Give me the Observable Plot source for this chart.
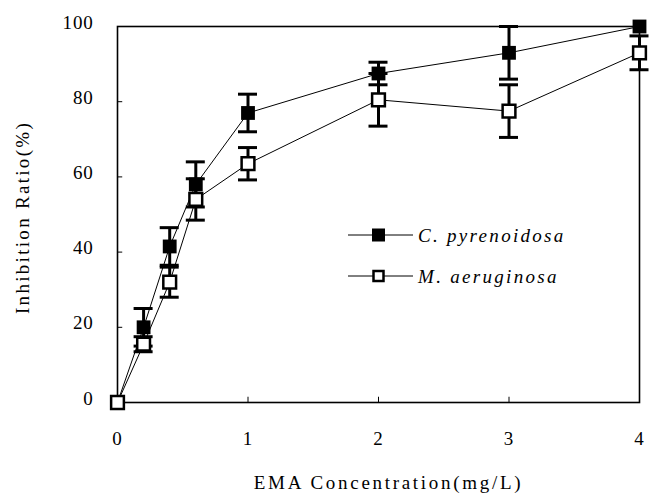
<!DOCTYPE html>
<html>
<head>
<meta charset="utf-8">
<script src="https://cdn.jsdelivr.net/npm/d3@7"></script>
<script src="https://cdn.jsdelivr.net/npm/@observablehq/plot@0.6"></script>
<style>
  html, body { margin: 0; padding: 0; background: #fff; }
  #wrap { position: relative; width: 650px; height: 502px; }
  #legend { position: absolute; left: 0; top: 0; pointer-events: none; }
  #wrap svg text { font-family: "Liberation Serif", "DejaVu Serif", "Times New Roman", serif !important; }
</style>
</head>
<body>
<div id="wrap"></div>
<script>
// ---- data ----
const concentration = [0, 0.2, 0.4, 0.6, 1, 2, 3, 4];
const seriesNames = ["C. pyrenoidosa", "M. aeruginosa"];
const cPyrenoidosa = [0, 20, 41.5, 58, 77, 87.5, 93, 100];
const cPyrenoidosaErr = [0, 5, 5, 6, 5, 3, 7, 0];
const mAeruginosa = [0, 15.5, 32, 54, 63.5, 80.5, 77.5, 93];
const mAeruginosaErr = [0, 2, 4, 5.5, 4.3, 7, 7, 4.5];
const xTicks = [0, 1, 2, 3, 4];
const yTicks = [0, 20, 40, 60, 80, 100];
const xLabel = "EMA Concentration(mg/L)";
const yLabel = "Inhibition Ratio(%)";

const rows = [];
[[cPyrenoidosa, cPyrenoidosaErr], [mAeruginosa, mAeruginosaErr]].forEach(([vals, errs], s) => {
  concentration.forEach((c, i) => rows.push({series: seriesNames[s], x: c, y: vals[i], err: errs[i]}));
});
const bars = rows.filter(d => d.err > 0);
const filled = rows.filter(d => d.series === seriesNames[0]);
const open = rows.filter(d => d.series === seriesNames[1]);

const font = "Liberation Serif, DejaVu Serif, serif";

const chart = Plot.plot({
  width: 650,
  height: 502,
  marginLeft: 117,
  marginRight: 11,
  marginTop: 26,
  marginBottom: 100,
  style: {fontFamily: font, fontSize: "19px", letterSpacing: "0.8px", background: "#fff", color: "#000"},
  x: {domain: [0, 4]},
  y: {domain: [0, 100]},
  marks: [
    Plot.frame({stroke: "#000", strokeWidth: 1.6}),
    // inward ticks
    Plot.ruleX(xTicks.slice(1, -1), {x: d => d, y1: 0, y2: 1.4, stroke: "#000", strokeWidth: 1}),
    Plot.ruleY(yTicks.slice(1, -1), {y: d => d, x1: 0, x2: 0.04, stroke: "#000", strokeWidth: 1}),
    Plot.axisX({ticks: xTicks, tickSize: 0, tickPadding: 29, label: null, tickFormat: d => String(d)}),
    Plot.axisY({ticks: yTicks, tickSize: 0, tickPadding: 24, label: null, dy: -4, tickFormat: d => String(d)}),
    // error bars
    Plot.ruleX(bars, {x: "x", y1: d => d.y - d.err, y2: d => d.y + d.err, stroke: "#000", strokeWidth: 3}),
    Plot.ruleY(bars, {y: d => d.y + d.err, x1: "x", x2: "x", insetLeft: -9.5, insetRight: -9.5, stroke: "#000", strokeWidth: 3}),
    Plot.ruleY(bars, {y: d => d.y - d.err, x1: "x", x2: "x", insetLeft: -9.5, insetRight: -9.5, stroke: "#000", strokeWidth: 3}),
    // lines
    Plot.line(rows, {x: "x", y: "y", z: "series", stroke: "#000", strokeWidth: 1}),
    // markers
    Plot.dot(open, {x: "x", y: "y", symbol: "square", r: 7.2, fill: "#fff", stroke: "#000", strokeWidth: 2.5}),
    Plot.dot(filled.filter(d => d.x > 0), {x: "x", y: "y", symbol: "square", r: 7.8, fill: "#000", stroke: "none"}),
    // axis titles
    Plot.text([xLabel], {text: d => d, frameAnchor: "bottom", textAnchor: "middle", dy: 86, dx: 10, fontSize: 19}),
    Plot.text([yLabel], {text: d => d, frameAnchor: "left", textAnchor: "middle", rotate: -90, dx: -95, dy: 3, fontSize: 19})
  ]
});

// widen the spacing of the axis titles
d3.select(chart).selectAll("text")
  .filter(function () { return this.textContent === xLabel; })
  .style("letter-spacing", "2.7px");
d3.select(chart).selectAll("text")
  .filter(function () { return this.textContent === yLabel; })
  .style("letter-spacing", "2.3px");

const wrap = document.getElementById("wrap");
wrap.appendChild(chart);

// legend overlay
const ns = "http://www.w3.org/2000/svg";
const leg = document.createElementNS(ns, "svg");
leg.setAttribute("id", "legend");
leg.setAttribute("width", 650);
leg.setAttribute("height", 502);
const rowsY = [235, 276];
seriesNames.forEach((name, i) => {
  const y = rowsY[i];
  const line = document.createElementNS(ns, "line");
  line.setAttribute("x1", 348); line.setAttribute("x2", 413);
  line.setAttribute("y1", y); line.setAttribute("y2", y);
  line.setAttribute("stroke", "#000"); line.setAttribute("stroke-width", 1);
  leg.appendChild(line);
  const sq = document.createElementNS(ns, "rect");
  if (i === 0) {
    sq.setAttribute("x", 372); sq.setAttribute("y", y - 6.5);
    sq.setAttribute("width", 13); sq.setAttribute("height", 13);
    sq.setAttribute("fill", "#000");
  } else {
    sq.setAttribute("x", 373.5); sq.setAttribute("y", y - 5);
    sq.setAttribute("width", 10); sq.setAttribute("height", 10);
    sq.setAttribute("fill", "#fff"); sq.setAttribute("stroke", "#000"); sq.setAttribute("stroke-width", 2.5);
  }
  leg.appendChild(sq);
  const t = document.createElementNS(ns, "text");
  t.setAttribute("x", 418); t.setAttribute("y", y + 6.5);
  t.setAttribute("font-style", "italic");
  t.setAttribute("font-size", 19);
  t.setAttribute("letter-spacing", "2.3px");
  t.textContent = name;
  leg.appendChild(t);
});
wrap.appendChild(leg);
</script>
</body>
</html>
